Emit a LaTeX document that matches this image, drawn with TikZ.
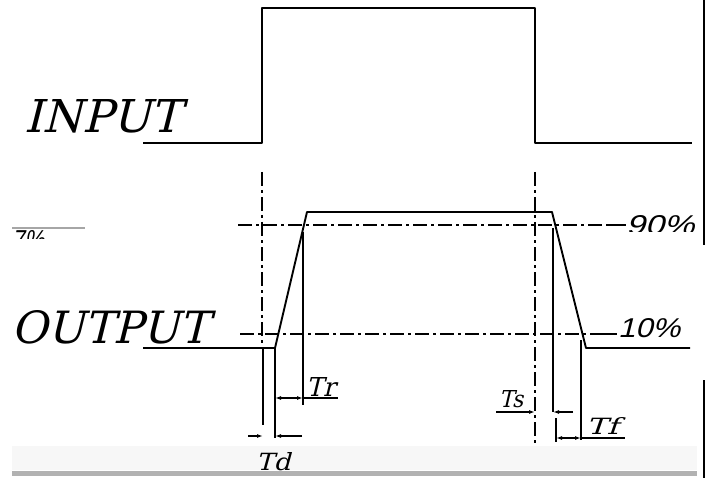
\documentclass[tikz,border=0pt]{standalone}
\usepackage{fontspec}
\usetikzlibrary{arrows.meta}
\newfontfamily\pctfont{Liberation Sans}[FakeSlant=0.22]
\newfontfamily\lblfont{DejaVu Serif}[FakeSlant=0.25]
\begin{document}
\begin{tikzpicture}[x=1pt,y=-1pt,
  wave/.style={line width=1.9pt, line join=round},
  centerline/.style={line width=1.4pt, dash pattern=on 14pt off 4pt on 3pt off 4pt},
  ext/.style={line width=1.3pt},
  dim/.style={line width=1.3pt},
  tip/.style={-{Latex[length=6pt,width=4pt]}},
  tips/.style={{Latex[length=6pt,width=4pt]}-{Latex[length=6pt,width=4pt]}},
  biglbl/.style={inner sep=0pt, anchor=base west, font=\lblfont},
  tlbl/.style={inner sep=0pt, anchor=base west, font=\lblfont},
  pct/.style={inner sep=0pt, anchor=base west, font=\pctfont}
]
\useasboundingbox (0,0) rectangle (711,478);

% faint bottom stripes and bar
\fill[gray!6] (12,446) rectangle (697,470);
\fill[gray!60] (12,471) rectangle (697,476);

% right border fragments
\coordinate (b0) at (704,0);   \coordinate (b1) at (704,245);
\coordinate (b2) at (704,380); \coordinate (b3) at (704,478);
\draw[line width=1.5pt] (b0) -- (b1);
\draw[line width=1.5pt] (b2) -- (b3);

% labels
\node[biglbl] (inlbl) at (24,133) {\resizebox{157pt}{33pt}{INPUT}};
\node[biglbl] (outlbl) at (11,343) {\resizebox{198pt}{33pt}{OUTPUT}};

% input waveform
\coordinate (i0) at (143,143); \coordinate (i1) at (262,143);
\coordinate (i2) at (262,8);   \coordinate (i3) at (535,8);
\coordinate (i4) at (535,143); \coordinate (i5) at (692,143);
\draw[wave] (i0) -- (i1) -- (i2) -- (i3) -- (i4) -- (i5);

% output waveform
\coordinate (o0) at (143,348); \coordinate (o1) at (275,348);
\coordinate (o2) at (307,212); \coordinate (o3) at (552,212);
\coordinate (o4) at (586,348); \coordinate (o5) at (690,348);
\draw[wave] (o0) -- (o1) -- (o2) -- (o3) -- (o4) -- (o5);

% center lines (vertical)
\coordinate (v1a) at (262,172); \coordinate (v1b) at (262,348);
\coordinate (v2a) at (535,172); \coordinate (v2b) at (535,445);
\draw[centerline] (v1a) -- (v1b);
\draw[centerline] (v2a) -- (v2b);

% 90% and 10% levels
\coordinate (h9a) at (238,225); \coordinate (h9b) at (608,225); \coordinate (h9c) at (626,225);
\coordinate (h1a) at (240,334); \coordinate (h1b) at (597,334); \coordinate (h1c) at (617,334);
\draw[centerline] (h9a) -- (h9b);
\draw[ext] (h9b) -- (h9c);
\draw[centerline] (h1a) -- (h1b);
\draw[ext] (h1b) -- (h1c);
\begin{scope}
  \clip (600,200) rectangle (711,231);
  \node[pct] (p90) at (626,234) {\resizebox{68pt}{19pt}{90\%}};
\end{scope}
\node[pct] (p10) at (618,337) {\resizebox{62pt}{19pt}{10\%}};

% left fragment
\coordinate (f0) at (12,228); \coordinate (f1) at (85,228);
\draw[gray!70, line width=1.5pt] (f0) -- (f1);
\begin{scope}
  \clip (0,229.5) rectangle (60,238);
  \node[pct] (frag) at (12,249) {\resizebox{32pt}{19pt}{7\%}};
\end{scope}

% extension lines
\coordinate (e1a) at (263,348); \coordinate (e1b) at (263,425);
\coordinate (e2a) at (275,348); \coordinate (e2b) at (275,438);
\coordinate (e3a) at (303,232); \coordinate (e3b) at (303,405);
\coordinate (e4a) at (553,228); \coordinate (e4b) at (553,412);
\coordinate (e5a) at (556,418); \coordinate (e5b) at (556,442);
\coordinate (e6a) at (581,340); \coordinate (e6b) at (581,440);
\draw[ext] (e1a) -- (e1b);
\draw[ext] (e2a) -- (e2b);
\draw[ext] (e3a) -- (e3b);
\draw[ext] (e4a) -- (e4b);
\draw[ext] (e5a) -- (e5b);
\draw[ext] (e6a) -- (e6b);

% Tr
\coordinate (tr0) at (275,398); \coordinate (tr1) at (303,398); \coordinate (tr2) at (338,398);
\draw[dim, tips] (tr0) -- (tr1);
\draw[dim] (tr1) -- (tr2);
\node[tlbl] (trl) at (306,396) {\resizebox{29pt}{19pt}{Tr}};

% Td
\coordinate (td0) at (248,436); \coordinate (td1) at (263,436);
\coordinate (td2) at (302,436); \coordinate (td3) at (275,436);
\draw[dim, tip] (td0) -- (td1);
\draw[dim, tip] (td2) -- (td3);
\node[tlbl] (tdl) at (256,470) {\resizebox{34pt}{18pt}{Td}};

% Ts
\coordinate (ts0) at (496,412); \coordinate (ts1) at (535,412);
\coordinate (ts2) at (573,412); \coordinate (ts3) at (553,412);
\draw[dim, tip] (ts0) -- (ts1);
\draw[dim, tip] (ts2) -- (ts3);
\node[tlbl] (tsl) at (499,407) {\resizebox{24pt}{17pt}{Ts}};

% Tf
\coordinate (tf0) at (556,438); \coordinate (tf1) at (581,438); \coordinate (tf2) at (625,438);
\draw[dim, tips] (tf0) -- (tf1);
\draw[dim] (tf1) -- (tf2);
\node[tlbl] (tfl) at (586,434) {\resizebox{32pt}{17pt}{Tf}};
\end{tikzpicture}
\end{document}
